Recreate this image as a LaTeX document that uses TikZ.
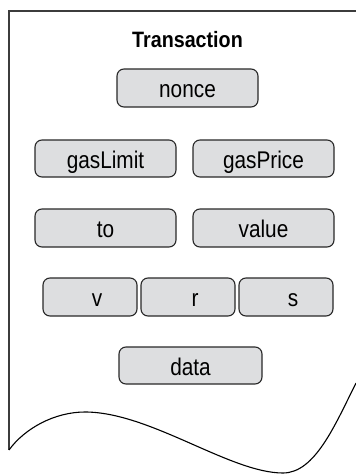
\documentclass[tikz,border=0pt]{standalone}
\usepackage{fontspec}
\setmainfont{Liberation Sans}
\usepackage{graphicx}
\definecolor{boxfill}{RGB}{221,222,224}
\definecolor{boxline}{RGB}{40,40,40}
\definecolor{pageline}{RGB}{60,60,60}
\tikzset{
  field/.style={draw=boxline, line width=1.1pt, fill=boxfill, rounded corners=7pt,
    rectangle, inner sep=0pt, minimum height=38pt, minimum width=141pt,
    text height=22pt, text depth=3pt,
    font=\fontsize{20.8pt}{22pt}\selectfont},
  small/.style={minimum width=94pt},
  titletext/.style={inner sep=0pt, anchor=base, font=\bfseries\fontsize{19.7pt}{22pt}\selectfont}
}
\newcommand{\fld}[1]{\scalebox{1}[1.16]{#1}}
\begin{document}
\begin{tikzpicture}[x=1pt,y=-1pt]
\useasboundingbox (0,0) rectangle (356,474);
\draw[pageline, line width=1.3pt] (356,11) -- (9,11) -- (9,450);
\draw[black, line width=1.1pt] (9,450) .. controls (25,428) and (55,412) .. (85,412)
  .. controls (150,412) and (230,473) .. (283,473)
  .. controls (315,473) and (335,425) .. (356,383);
\node[titletext] (title) at (187.5,47.7) {\scalebox{1}[1.13]{Transaction}};
\node[field] (nonce) at (187.5,88) {\fld{nonce}};
\node[field, minimum height=37pt] (gaslimit) at (105.5,158.5) {\fld{gasLimit}};
\node[field, minimum height=37pt] (gasprice) at (263.5,158.5) {\fld{gasPrice}};
\node[field] (to) at (105.5,228) {\fld{to}};
\node[field] (value) at (263.5,228) {\fld{value}};
\node[field, small] (v) at (90,297) {\hspace*{14pt}\fld{v}};
\node[field, small] (r) at (188,297) {\hspace*{14pt}\fld{r}};
\node[field, small] (s) at (286,297) {\hspace*{14pt}\fld{s}};
\node[field, minimum height=37pt, minimum width=143pt] (data) at (190.5,365.5) {\fld{data}};
\end{tikzpicture}
\end{document}
